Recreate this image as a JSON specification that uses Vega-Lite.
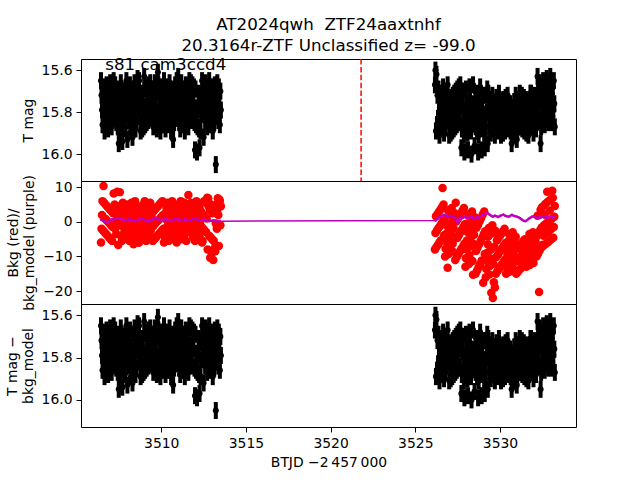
{
"$schema":"https://vega.github.io/schema/vega-lite/v6.json",
"autosize":{"type":"none"},
"padding":{"left":81,"top":59,"right":64,"bottom":421},
"datasets":{
"lc":[
{"t":3506.44,"m":15.65,"b":-6},{"t":3506.47,"m":15.72,"b":-2},{"t":3506.5,"m":15.79,"b":2},{"t":3506.53,"m":15.86,"b":6},{"t":3506.56,"m":15.68,"b":-2.5},{"t":3506.59,"m":15.75,"b":10.4},{"t":3506.62,"m":15.82,"b":5.5},{"t":3506.65,"m":15.89,"b":-3},{"t":3506.68,"m":15.71,"b":1},{"t":3506.71,"m":15.78,"b":5},{"t":3506.74,"m":15.85,"b":-3.5},{"t":3506.77,"m":15.67,"b":0.5},{"t":3506.8,"m":15.74,"b":4.5},{"t":3506.83,"m":15.81,"b":-4},{"t":3506.86,"m":15.88,"b":0},{"t":3506.89,"m":15.7,"b":4},{"t":3506.92,"m":15.77,"b":-4.5},{"t":3506.95,"m":15.84,"b":-0.5},{"t":3506.98,"m":15.66,"b":3.5},{"t":3507.01,"m":15.73,"b":-5},{"t":3507.04,"m":15.8,"b":-1},{"t":3507.07,"m":15.87,"b":3},{"t":3507.1,"m":15.69,"b":-5.5},{"t":3507.13,"m":15.76,"b":-1.5},{"t":3507.16,"m":15.83,"b":2.5},
{"t":3507.19,"m":15.65,"b":8.2},{"t":3507.22,"m":15.74,"b":-0.5},{"t":3507.25,"m":15.83,"b":5},{"t":3507.28,"m":15.67,"b":-2},{"t":3507.31,"m":15.76,"b":3.5},{"t":3507.34,"m":15.85,"b":-3.5},{"t":3507.37,"m":15.69,"b":2},{"t":3507.4,"m":15.78,"b":8.7},{"t":3507.43,"m":15.87,"b":0.5},{"t":3507.46,"m":15.71,"b":-6.7},{"t":3507.49,"m":15.95,"b":-1},{"t":3507.52,"m":15.89,"b":4.5},{"t":3507.55,"m":15.73,"b":8.6},{"t":3507.58,"m":15.82,"b":3},{"t":3507.61,"m":15.66,"b":-4},{"t":3507.64,"m":15.75,"b":1.5},{"t":3507.67,"m":15.84,"b":-5.5},{"t":3507.7,"m":15.94,"b":0},{"t":3507.73,"m":15.77,"b":5.5},{"t":3507.76,"m":15.86,"b":-1.5},{"t":3507.79,"m":15.7,"b":4},{"t":3507.82,"m":15.79,"b":-3},{"t":3507.85,"m":15.88,"b":2.5},{"t":3507.88,"m":15.72,"b":-4.5},{"t":3507.91,"m":15.81,"b":1},
{"t":3507.94,"m":15.65,"b":3},{"t":3507.97,"m":15.76,"b":-0.5},{"t":3508.0,"m":15.93,"b":-4},{"t":3508.03,"m":15.73,"b":5},{"t":3508.06,"m":15.84,"b":1.5},{"t":3508.09,"m":15.7,"b":-2},{"t":3508.12,"m":15.81,"b":-5.5},{"t":3508.15,"m":15.67,"b":3.5},{"t":3508.18,"m":15.78,"b":0},{"t":3508.21,"m":15.89,"b":-3.5},{"t":3508.24,"m":15.75,"b":5.5},{"t":3508.27,"m":15.86,"b":2},{"t":3508.3,"m":15.92,"b":-1.5},{"t":3508.33,"m":15.83,"b":-5},{"t":3508.36,"m":15.69,"b":-6.5},{"t":3508.39,"m":15.8,"b":0.5},{"t":3508.42,"m":15.66,"b":-3},{"t":3508.45,"m":15.77,"b":6},{"t":3508.48,"m":15.88,"b":2.5},{"t":3508.51,"m":15.74,"b":-1},{"t":3508.54,"m":15.85,"b":-4.5},{"t":3508.57,"m":15.71,"b":4.5},{"t":3508.6,"m":15.64,"b":1},{"t":3508.63,"m":15.68,"b":-2.5},{"t":3508.66,"m":15.79,"b":-6},
{"t":3508.69,"m":15.65,"b":-6},{"t":3508.72,"m":15.73,"b":-1.5},{"t":3508.75,"m":15.81,"b":3},{"t":3508.78,"m":15.89,"b":-5},{"t":3508.81,"m":15.72,"b":-0.5},{"t":3508.84,"m":15.8,"b":4},{"t":3508.87,"m":15.88,"b":-4},{"t":3508.9,"m":15.71,"b":0.5},{"t":3508.93,"m":15.79,"b":5},{"t":3508.96,"m":15.87,"b":-3},{"t":3508.99,"m":15.63,"b":1.5},{"t":3509.02,"m":15.78,"b":6},{"t":3509.05,"m":15.86,"b":-2},{"t":3509.08,"m":15.69,"b":2.5},{"t":3509.11,"m":15.77,"b":-5.5},{"t":3509.14,"m":15.85,"b":-1},{"t":3509.17,"m":15.68,"b":3.5},{"t":3509.2,"m":15.76,"b":-4.5},{"t":3509.23,"m":15.84,"b":0},{"t":3509.26,"m":15.67,"b":4.5},{"t":3509.29,"m":15.75,"b":-3.5},{"t":3509.32,"m":15.83,"b":1},{"t":3509.35,"m":15.66,"b":5.5},{"t":3509.38,"m":15.74,"b":-2.5},{"t":3509.41,"m":15.82,"b":2},
{"t":3509.44,"m":15.83,"b":2.5},{"t":3509.47,"m":15.76,"b":-1.5},{"t":3509.5,"m":15.69,"b":-5.5},{"t":3509.53,"m":15.87,"b":3},{"t":3509.56,"m":15.8,"b":-1},{"t":3509.59,"m":15.73,"b":-5},{"t":3509.62,"m":15.66,"b":3.5},{"t":3509.65,"m":15.84,"b":-0.5},{"t":3509.68,"m":15.77,"b":-4.5},{"t":3509.71,"m":15.7,"b":4},{"t":3509.74,"m":15.88,"b":0},{"t":3509.77,"m":15.81,"b":-4},{"t":3509.8,"m":15.61,"b":4.5},{"t":3509.83,"m":15.67,"b":0.5},{"t":3509.86,"m":15.85,"b":-3.5},{"t":3509.89,"m":15.78,"b":5},{"t":3509.92,"m":15.71,"b":1},{"t":3509.95,"m":15.89,"b":-3},{"t":3509.98,"m":15.82,"b":5.5},{"t":3510.01,"m":15.75,"b":1.5},{"t":3510.04,"m":15.68,"b":-2.5},{"t":3510.07,"m":15.86,"b":6},{"t":3510.1,"m":15.79,"b":2},{"t":3510.13,"m":15.72,"b":-2},{"t":3510.16,"m":15.65,"b":-6},
{"t":3510.19,"m":15.81,"b":1},{"t":3510.22,"m":15.72,"b":-4.5},{"t":3510.25,"m":15.88,"b":2.5},{"t":3510.28,"m":15.79,"b":-3},{"t":3510.31,"m":15.7,"b":4},{"t":3510.34,"m":15.86,"b":-1.5},{"t":3510.37,"m":15.77,"b":5.5},{"t":3510.4,"m":15.68,"b":0},{"t":3510.43,"m":15.84,"b":-5.5},{"t":3510.46,"m":15.75,"b":1.5},{"t":3510.49,"m":15.66,"b":-4},{"t":3510.52,"m":15.82,"b":3},{"t":3510.55,"m":15.73,"b":-2.5},{"t":3510.58,"m":15.89,"b":4.5},{"t":3510.61,"m":15.8,"b":-1},{"t":3510.64,"m":15.71,"b":6},{"t":3510.67,"m":15.87,"b":0.5},{"t":3510.7,"m":15.93,"b":-5},{"t":3510.73,"m":15.69,"b":2},{"t":3510.76,"m":15.85,"b":-3.5},{"t":3510.79,"m":15.76,"b":3.5},{"t":3510.82,"m":15.67,"b":-2},{"t":3510.85,"m":15.83,"b":5},{"t":3510.88,"m":15.74,"b":-0.5},{"t":3510.91,"m":15.65,"b":-6},
{"t":3510.94,"m":15.79,"b":-5.5},{"t":3510.97,"m":15.68,"b":-2.5},{"t":3511.0,"m":15.63,"b":1},{"t":3511.03,"m":15.71,"b":4.5},{"t":3511.06,"m":15.85,"b":-4.5},{"t":3511.09,"m":15.74,"b":-1},{"t":3511.12,"m":15.88,"b":2.5},{"t":3511.15,"m":15.77,"b":6},{"t":3511.18,"m":15.66,"b":-3},{"t":3511.21,"m":15.8,"b":0.5},{"t":3511.24,"m":15.69,"b":4},{"t":3511.27,"m":15.83,"b":-5},{"t":3511.3,"m":15.72,"b":-1.5},{"t":3511.33,"m":15.86,"b":2},{"t":3511.36,"m":15.75,"b":5.5},{"t":3511.39,"m":15.89,"b":-3.5},{"t":3511.42,"m":15.78,"b":0},{"t":3511.45,"m":15.67,"b":3.5},{"t":3511.48,"m":15.81,"b":-5.5},{"t":3511.51,"m":15.7,"b":-2},{"t":3511.54,"m":15.84,"b":1.5},{"t":3511.57,"m":15.73,"b":5},{"t":3511.6,"m":15.87,"b":7.8},{"t":3511.63,"m":15.76,"b":-0.5},{"t":3511.66,"m":15.65,"b":3},
{"t":3511.69,"m":15.82,"b":2},{"t":3511.72,"m":15.74,"b":-2.5},{"t":3511.75,"m":15.66,"b":5.5},{"t":3511.78,"m":15.83,"b":1},{"t":3511.81,"m":15.75,"b":-3.5},{"t":3511.84,"m":15.67,"b":4.5},{"t":3511.87,"m":15.84,"b":0},{"t":3511.9,"m":15.76,"b":-4.5},{"t":3511.93,"m":15.68,"b":3.5},{"t":3511.96,"m":15.85,"b":-1},{"t":3511.99,"m":15.98,"b":-5.5},{"t":3512.02,"m":15.69,"b":2.5},{"t":3512.05,"m":15.86,"b":-2},{"t":3512.08,"m":15.78,"b":6},{"t":3512.11,"m":15.99,"b":1.5},{"t":3512.14,"m":15.87,"b":-3},{"t":3512.17,"m":15.79,"b":5},{"t":3512.2,"m":15.71,"b":0.5},{"t":3512.23,"m":15.88,"b":-4},{"t":3512.26,"m":15.97,"b":4},{"t":3512.29,"m":15.72,"b":-0.5},{"t":3512.32,"m":15.89,"b":-5},{"t":3512.35,"m":15.81,"b":3},{"t":3512.38,"m":15.73,"b":-1.5},{"t":3512.41,"m":15.65,"b":-6},
{"t":3512.44,"m":15.74,"b":-5.5},{"t":3512.47,"m":15.81,"b":-2},{"t":3512.5,"m":15.92,"b":2},{"t":3512.53,"m":15.7,"b":6},{"t":3512.56,"m":15.77,"b":-2.5},{"t":3512.59,"m":15.84,"b":1.5},{"t":3512.62,"m":15.66,"b":5.5},{"t":3512.65,"m":15.73,"b":-3},{"t":3512.68,"m":15.8,"b":1},{"t":3512.71,"m":15.87,"b":7},{"t":3512.74,"m":15.69,"b":-8},{"t":3512.77,"m":15.76,"b":6.8},{"t":3512.8,"m":15.83,"b":4.5},{"t":3512.83,"m":15.65,"b":-4},{"t":3512.86,"m":15.72,"b":3.5},{"t":3512.89,"m":15.79,"b":-10.4},{"t":3512.92,"m":15.86,"b":-4.5},{"t":3512.95,"m":15.68,"b":5},{"t":3512.98,"m":15.75,"b":-9},{"t":3513.01,"m":15.82,"b":-5},{"t":3513.04,"m":15.89,"b":2.5},{"t":3513.07,"m":15.71,"b":-11},{"t":3513.1,"m":15.78,"b":-5.5},{"t":3513.13,"m":15.85,"b":4},{"t":3513.16,"m":15.67,"b":-7.5},
{"t":3513.19,"m":15.8,"b":-8.5},{"t":3513.22,"m":16.05,"b":-0.5},{"t":3513.25,"m":15.73,"b":5},{"t":3513.28,"m":15.82,"b":-2},{"t":3513.31,"m":15.66,"b":3.5},{"t":3513.34,"m":15.75,"b":6.8},{"t":3513.37,"m":15.84,"b":2},{"t":3513.4,"m":15.68,"b":-7},{"t":3513.43,"m":15.77,"b":6.5},{"t":3513.46,"m":15.86,"b":6},{"t":3513.49,"m":15.7,"b":-1},{"t":3513.52,"m":15.79,"b":4.5},
{"t":3526.16,"m":15.67,"b":-8},{"t":3526.19,"m":15.6,"b":-3.2},{"t":3526.22,"m":15.89,"b":1.6},{"t":3526.25,"m":15.62,"b":-7.3},{"t":3526.28,"m":15.86,"b":-2.5},{"t":3526.31,"m":15.72,"b":2.3},{"t":3526.34,"m":15.83,"b":-6.6},{"t":3526.37,"m":15.69,"b":-1.8},{"t":3526.4,"m":15.8,"b":2.9},{"t":3526.43,"m":15.91,"b":-5.9},{"t":3526.46,"m":15.77,"b":-1.2},{"t":3526.49,"m":15.88,"b":3.6},{"t":3526.52,"m":15.74,"b":-5.3},{"t":3526.55,"m":15.85,"b":-0.5},{"t":3526.58,"m":15.71,"b":4.3},{"t":3526.61,"m":15.82,"b":9.8},{"t":3526.64,"m":15.68,"b":0.2},{"t":3526.67,"m":15.79,"b":5},{"t":3526.7,"m":15.9,"b":-3.9},{"t":3526.73,"m":15.76,"b":0.9},{"t":3526.76,"m":15.87,"b":-10},{"t":3526.79,"m":15.73,"b":-7.8},{"t":3526.82,"m":15.84,"b":-5.6},{"t":3526.85,"m":15.7,"b":-3.4},{"t":3526.88,"m":15.81,"b":-1.2},
{"t":3526.91,"m":15.67,"b":-13.3},{"t":3526.94,"m":15.75,"b":3.3},{"t":3526.97,"m":15.83,"b":-9.3},{"t":3527.0,"m":15.91,"b":-7.1},{"t":3527.03,"m":15.74,"b":-4.8},{"t":3527.06,"m":15.82,"b":-2.6},{"t":3527.09,"m":15.9,"b":-0.4},{"t":3527.12,"m":15.73,"b":1.8},{"t":3527.15,"m":15.81,"b":4},{"t":3527.18,"m":15.89,"b":-8.5},{"t":3527.21,"m":15.72,"b":-6.3},{"t":3527.24,"m":15.8,"b":-4.1},{"t":3527.27,"m":15.88,"b":-1.9},{"t":3527.3,"m":15.71,"b":0.3},{"t":3527.33,"m":15.79,"b":2.5},{"t":3527.36,"m":15.87,"b":-11},{"t":3527.39,"m":15.7,"b":5.5},{"t":3527.42,"m":15.78,"b":0.1},{"t":3527.45,"m":15.86,"b":-10.2},{"t":3527.48,"m":15.69,"b":-4.7},{"t":3527.51,"m":15.77,"b":0.8},{"t":3527.54,"m":15.85,"b":-9.4},{"t":3527.57,"m":15.68,"b":-3.9},{"t":3527.6,"m":15.76,"b":1.6},{"t":3527.63,"m":15.84,"b":-8.6},
{"t":3527.66,"m":15.67,"b":-3.1},{"t":3527.69,"m":15.74,"b":2.4},{"t":3527.72,"m":15.97,"b":-7.8},{"t":3527.75,"m":15.88,"b":-2.3},{"t":3527.78,"m":15.7,"b":3.2},{"t":3527.81,"m":15.77,"b":-7.1},{"t":3527.84,"m":15.84,"b":-1.5},{"t":3527.87,"m":15.91,"b":4},{"t":3527.9,"m":15.99,"b":-6.3},{"t":3527.93,"m":15.8,"b":-0.7},{"t":3527.96,"m":15.87,"b":-13},{"t":3527.99,"m":15.69,"b":-10.5},{"t":3528.02,"m":15.76,"b":-7.9},{"t":3528.05,"m":15.83,"b":-5.4},{"t":3528.08,"m":15.9,"b":-2.9},{"t":3528.11,"m":15.98,"b":-0.4},{"t":3528.14,"m":15.79,"b":2.2},{"t":3528.17,"m":15.86,"b":-12.2},{"t":3528.2,"m":15.68,"b":-9.6},{"t":3528.23,"m":15.75,"b":-7.1},{"t":3528.26,"m":15.82,"b":-4.6},{"t":3528.29,"m":15.89,"b":-2.1},{"t":3528.32,"m":16.0,"b":0.5},{"t":3528.35,"m":15.78,"b":3},{"t":3528.38,"m":15.85,"b":-11.3},
{"t":3528.41,"m":15.67,"b":-15.3},{"t":3528.44,"m":15.76,"b":-6.3},{"t":3528.47,"m":15.85,"b":-3.7},{"t":3528.5,"m":15.96,"b":-1.2},{"t":3528.53,"m":15.78,"b":1.3},{"t":3528.56,"m":15.87,"b":-15},{"t":3528.59,"m":15.71,"b":-8.4},{"t":3528.62,"m":15.8,"b":-1.7},{"t":3528.65,"m":15.89,"b":-14.1},{"t":3528.68,"m":15.73,"b":-7.4},{"t":3528.71,"m":15.99,"b":-0.8},{"t":3528.74,"m":15.91,"b":-13.1},{"t":3528.77,"m":15.75,"b":-6.5},{"t":3528.8,"m":15.84,"b":0.2},{"t":3528.83,"m":15.68,"b":-12.2},{"t":3528.86,"m":15.77,"b":-5.5},{"t":3528.89,"m":15.86,"b":1.1},{"t":3528.92,"m":15.98,"b":-11.2},{"t":3528.95,"m":15.79,"b":-4.6},{"t":3528.98,"m":15.88,"b":2.1},{"t":3529.01,"m":15.72,"b":-17.6},{"t":3529.04,"m":15.81,"b":-3.6},{"t":3529.07,"m":15.9,"b":3},{"t":3529.1,"m":15.97,"b":-9.3},{"t":3529.13,"m":15.83,"b":-2.7},
{"t":3529.16,"m":15.87,"b":-16},{"t":3529.19,"m":15.72,"b":-13.6},{"t":3529.22,"m":15.8,"b":-11.3},{"t":3529.25,"m":15.69,"b":-8.9},{"t":3529.28,"m":15.95,"b":-6.5},{"t":3529.31,"m":15.71,"b":-4.2},{"t":3529.34,"m":15.79,"b":-1.8},{"t":3529.37,"m":15.87,"b":-15.2},{"t":3529.4,"m":15.74,"b":-12.8},{"t":3529.43,"m":15.82,"b":-10.5},{"t":3529.46,"m":15.9,"b":-8.1},{"t":3529.49,"m":15.77,"b":-20.5},{"t":3529.52,"m":15.85,"b":-3.4},{"t":3529.55,"m":15.72,"b":-1},{"t":3529.58,"m":15.8,"b":-22},{"t":3529.61,"m":15.88,"b":-12.1},{"t":3529.64,"m":15.75,"b":-17.5},{"t":3529.67,"m":15.83,"b":-7.3},{"t":3529.7,"m":15.91,"b":-19},{"t":3529.73,"m":15.78,"b":-2.6},{"t":3529.76,"m":15.86,"b":-15},{"t":3529.79,"m":15.73,"b":-10.2},{"t":3529.82,"m":15.81,"b":-5.4},{"t":3529.85,"m":15.89,"b":-14.3},{"t":3529.88,"m":15.76,"b":-9.5},{"t":3529.91,"m":15.84,"b":-4.7},
{"t":3529.94,"m":15.71,"b":-13.6},{"t":3529.97,"m":15.76,"b":-8.8},{"t":3530.0,"m":15.81,"b":-4.1},{"t":3530.03,"m":15.86,"b":-12.9},{"t":3530.06,"m":15.91,"b":-8.2},{"t":3530.09,"m":15.75,"b":-3.4},{"t":3530.12,"m":15.8,"b":-12.3},{"t":3530.15,"m":15.85,"b":-7.5},{"t":3530.18,"m":15.9,"b":-2.7},{"t":3530.21,"m":15.74,"b":-11.6},{"t":3530.24,"m":15.79,"b":-6.8},{"t":3530.27,"m":15.84,"b":-2},{"t":3530.3,"m":15.89,"b":-10.9},{"t":3530.33,"m":15.73,"b":-6.1},{"t":3530.36,"m":15.78,"b":-15},{"t":3530.39,"m":15.83,"b":-13.1},{"t":3530.42,"m":15.88,"b":-11.2},{"t":3530.45,"m":15.72,"b":-9.3},{"t":3530.48,"m":15.77,"b":-7.4},{"t":3530.51,"m":15.82,"b":-5.5},{"t":3530.54,"m":15.87,"b":-3.6},
{"t":3530.57,"m":15.84,"b":-14.4},{"t":3530.6,"m":15.76,"b":-12.5},{"t":3530.63,"m":15.89,"b":-10.6},{"t":3530.66,"m":15.81,"b":-8.7},{"t":3530.69,"m":15.95,"b":-6.8},{"t":3530.72,"m":15.86,"b":-4.9},{"t":3530.75,"m":15.78,"b":-3},{"t":3530.78,"m":15.91,"b":-13.7},{"t":3530.81,"m":15.83,"b":-11.8},{"t":3530.84,"m":15.75,"b":-9.9},{"t":3530.87,"m":15.88,"b":-8},{"t":3530.9,"m":15.8,"b":-6.2},{"t":3530.93,"m":15.72,"b":-4.3},{"t":3530.96,"m":15.85,"b":-15},{"t":3530.99,"m":15.93,"b":-11.3},{"t":3531.02,"m":15.9,"b":-7.6},{"t":3531.05,"m":15.82,"b":-14.5},{"t":3531.08,"m":15.74,"b":-10.8},{"t":3531.11,"m":15.87,"b":-7.1},{"t":3531.14,"m":15.79,"b":-13.9},{"t":3531.17,"m":15.71,"b":-10.3},
{"t":3531.2,"m":15.87,"b":-6.6},{"t":3531.23,"m":15.82,"b":-13.4},{"t":3531.26,"m":15.77,"b":-9.7},{"t":3531.29,"m":15.72,"b":-6.1},{"t":3531.32,"m":15.88,"b":-12.9},{"t":3531.35,"m":15.83,"b":-9.2},{"t":3531.38,"m":15.78,"b":-5.5},{"t":3531.41,"m":15.73,"b":-12.4},{"t":3531.44,"m":15.89,"b":-8.7},{"t":3531.47,"m":15.84,"b":-5},{"t":3531.5,"m":15.79,"b":-11.8},{"t":3531.53,"m":15.74,"b":-8.2},{"t":3531.56,"m":15.9,"b":-13},{"t":3531.59,"m":15.85,"b":-11.4},{"t":3531.62,"m":15.8,"b":-9.8},{"t":3531.65,"m":15.75,"b":-8.3},{"t":3531.68,"m":15.91,"b":-6.7},{"t":3531.71,"m":15.86,"b":-5.1},{"t":3531.74,"m":15.81,"b":-3.5},{"t":3531.77,"m":15.76,"b":-12.5},{"t":3531.8,"m":15.71,"b":-10.9},
{"t":3531.83,"m":15.71,"b":-9.3},{"t":3531.86,"m":15.79,"b":-7.7},{"t":3531.89,"m":15.87,"b":-6.2},{"t":3531.92,"m":15.74,"b":-4.6},{"t":3531.95,"m":15.82,"b":-3},{"t":3531.98,"m":15.9,"b":-11.9},{"t":3532.01,"m":15.77,"b":-10.4},{"t":3532.04,"m":15.85,"b":-8.8},{"t":3532.07,"m":15.72,"b":-7.2},{"t":3532.1,"m":15.8,"b":-5.6},{"t":3532.13,"m":15.88,"b":-4.1},{"t":3532.16,"m":15.75,"b":-10},{"t":3532.19,"m":15.83,"b":-4.1},
{"t":3532.22,"m":15.63,"b":1.8},{"t":3532.25,"m":15.7,"b":-9.2},{"t":3532.28,"m":15.77,"b":-3.3},{"t":3532.31,"m":15.84,"b":-20.3},{"t":3532.34,"m":15.66,"b":-8.3},{"t":3532.37,"m":15.73,"b":-2.4},{"t":3532.4,"m":15.95,"b":3.5},{"t":3532.43,"m":15.87,"b":-7.5},{"t":3532.46,"m":15.69,"b":-1.6},{"t":3532.49,"m":15.76,"b":4.3},{"t":3532.52,"m":15.83,"b":-6.6},{"t":3532.55,"m":15.65,"b":-7},{"t":3532.58,"m":15.72,"b":-4},{"t":3532.61,"m":15.79,"b":-0.9},{"t":3532.64,"m":15.86,"b":2.1},{"t":3532.67,"m":15.68,"b":5.2},{"t":3532.7,"m":15.75,"b":-6.4},{"t":3532.73,"m":15.82,"b":-3.3},{"t":3532.76,"m":15.64,"b":-0.3},{"t":3532.79,"m":15.71,"b":8.7},{"t":3532.82,"m":15.78,"b":5.8},{"t":3532.85,"m":15.85,"b":-5.8},{"t":3532.88,"m":15.67,"b":-2.7},{"t":3532.91,"m":15.74,"b":0.3},{"t":3532.94,"m":15.81,"b":3.3},{"t":3532.97,"m":15.63,"b":6.4},{"t":3533.0,"m":15.74,"b":-5.2},{"t":3533.03,"m":15.85,"b":-2.1},{"t":3533.06,"m":15.71,"b":0.9},{"t":3533.09,"m":15.82,"b":9},{"t":3533.12,"m":15.68,"b":7},{"t":3533.15,"m":15.79,"b":-4.6},{"t":3533.18,"m":15.65,"b":-1.5},{"t":3533.21,"m":15.76,"b":1.5},{"t":3533.24,"m":15.87,"b":4.6}
],
"model":[
{"t":3506.45,"k":0.6},{"t":3506.55,"k":0.4},{"t":3506.65,"k":0.1},{"t":3506.75,"k":-0.2},{"t":3506.85,"k":0.0},{"t":3506.95,"k":0.3},{"t":3507.05,"k":0.6},{"t":3507.15,"k":0.8},{"t":3507.25,"k":0.7},{"t":3507.35,"k":0.9},{"t":3507.45,"k":1.1},{"t":3507.55,"k":1.0},{"t":3507.65,"k":0.8},{"t":3507.75,"k":0.6},{"t":3507.85,"k":0.5},{"t":3507.95,"k":0.4},{"t":3508.05,"k":0.6},{"t":3508.15,"k":0.7},{"t":3508.25,"k":0.5},{"t":3508.35,"k":0.3},{"t":3508.45,"k":0.2},{"t":3508.55,"k":0.4},{"t":3508.65,"k":0.6},{"t":3508.75,"k":0.8},{"t":3508.85,"k":0.9},{"t":3508.95,"k":0.7},{"t":3509.05,"k":0.5},{"t":3509.15,"k":0.3},{"t":3509.25,"k":0.1},{"t":3509.35,"k":0.3},{"t":3509.45,"k":0.6},{"t":3509.55,"k":0.9},{"t":3509.65,"k":1.2},{"t":3509.75,"k":1.0},{"t":3509.85,"k":0.7},{"t":3509.95,"k":0.5},{"t":3510.05,"k":0.4},{"t":3510.15,"k":0.6},{"t":3510.25,"k":0.8},{"t":3510.35,"k":0.7},{"t":3510.45,"k":0.5},{"t":3510.55,"k":0.3},{"t":3510.65,"k":0.4},{"t":3510.75,"k":0.7},{"t":3510.85,"k":0.9},{"t":3510.95,"k":0.8},{"t":3511.05,"k":0.6},{"t":3511.15,"k":0.4},{"t":3511.25,"k":0.5},{"t":3511.35,"k":0.7},{"t":3511.45,"k":0.6},{"t":3511.55,"k":0.4},{"t":3511.65,"k":0.3},{"t":3511.75,"k":0.5},{"t":3511.85,"k":0.8},{"t":3511.95,"k":1.0},{"t":3512.05,"k":0.9},{"t":3512.15,"k":0.6},{"t":3512.25,"k":0.4},{"t":3512.35,"k":0.3},{"t":3512.45,"k":0.5},{"t":3512.55,"k":0.6},{"t":3512.65,"k":0.4},{"t":3512.75,"k":0.3},{"t":3512.85,"k":0.2},{"t":3512.95,"k":0.3},{"t":3513.05,"k":0.4},{"t":3513.15,"k":0.3},{"t":3513.25,"k":0.2},{"t":3513.35,"k":0.2},{"t":3513.45,"k":0.2},
{"t":3526.2,"k":0.4},{"t":3526.3,"k":0.8},{"t":3526.4,"k":1.3},{"t":3526.5,"k":1.6},{"t":3526.6,"k":1.8},{"t":3526.7,"k":2.0},{"t":3526.8,"k":1.9},{"t":3526.9,"k":1.6},{"t":3527.0,"k":1.4},{"t":3527.1,"k":1.7},{"t":3527.2,"k":1.5},{"t":3527.3,"k":1.3},{"t":3527.4,"k":0.6},{"t":3527.5,"k":-0.3},{"t":3527.6,"k":0.8},{"t":3527.7,"k":1.3},{"t":3527.8,"k":1.1},{"t":3527.9,"k":1.4},{"t":3528.0,"k":1.2},{"t":3528.1,"k":1.0},{"t":3528.2,"k":1.3},{"t":3528.3,"k":1.5},{"t":3528.4,"k":1.2},{"t":3528.5,"k":1.0},{"t":3528.6,"k":1.3},{"t":3528.7,"k":1.1},{"t":3528.8,"k":1.4},{"t":3528.9,"k":1.7},{"t":3529.0,"k":2.0},{"t":3529.1,"k":2.3},{"t":3529.2,"k":2.6},{"t":3529.3,"k":2.4},{"t":3529.4,"k":2.0},{"t":3529.5,"k":1.7},{"t":3529.6,"k":1.5},{"t":3529.7,"k":1.8},{"t":3529.8,"k":1.6},{"t":3529.9,"k":1.4},{"t":3530.0,"k":1.7},{"t":3530.1,"k":1.9},{"t":3530.2,"k":2.1},{"t":3530.3,"k":1.8},{"t":3530.4,"k":1.6},{"t":3530.5,"k":1.5},{"t":3530.6,"k":1.7},{"t":3530.7,"k":2.0},{"t":3530.8,"k":1.8},{"t":3530.9,"k":1.6},{"t":3531.0,"k":1.5},{"t":3531.1,"k":1.3},{"t":3531.2,"k":1.0},{"t":3531.3,"k":0.6},{"t":3531.4,"k":0.3},{"t":3531.5,"k":0.2},{"t":3531.6,"k":0.5},{"t":3531.7,"k":0.9},{"t":3531.8,"k":1.2},{"t":3531.9,"k":1.5},{"t":3532.0,"k":1.6},{"t":3532.1,"k":1.3},{"t":3532.2,"k":1.1},{"t":3532.3,"k":1.4},{"t":3532.4,"k":1.2},{"t":3532.5,"k":1.5},{"t":3532.6,"k":1.3},{"t":3532.7,"k":1.2},{"t":3532.8,"k":1.4},{"t":3532.9,"k":1.3},{"t":3533.0,"k":1.5},{"t":3533.1,"k":1.2},{"t":3533.2,"k":1.4}
]
},
"config":{
"font":"DejaVu Sans",
"view":{"stroke":"#000000","strokeWidth":1},
"concat":{"spacing":0},
"axis":{"grid":false,"domain":false,"tickColor":"#000000","tickSize":5,"tickWidth":1,"labelFont":"DejaVu Sans","labelFontSize":13.9,"labelColor":"#000000","labelPadding":4,"titleFont":"DejaVu Sans","titleFontSize":13.9,"titleFontWeight":"normal","titleColor":"#000000"}
},
"spacing":0,
"bounds":"flush",
"vconcat":[
{
"width":495,"height":122,
"title":{"text":["AT2024qwh\u00a0 ZTF24aaxtnhf","20.3164r-ZTF Unclassified z= -99.0"],"font":"DejaVu Sans","fontSize":16.7,"fontWeight":"normal","color":"#000000","anchor":"middle","frame":"group","baseline":"bottom","lineHeight":21,"offset":-15},
"encoding":{"x":{"field":"t","type":"quantitative","scale":{"domain":[3505.26,3534.49],"nice":false,"zero":false},"axis":null}},
"layer":[
{"data":{"name":"lc"},"mark":{"type":"tick","orient":"vertical","size":17,"thickness":4,"color":"#000000","opacity":1},"encoding":{"y":{"field":"m","type":"quantitative","scale":{"domain":[15.547,16.128],"reverse":true,"nice":false,"zero":false},"axis":{"values":[15.6,15.8,16.0],"format":".1f","title":"T mag","titlePadding":6}}}},
{"data":{"name":"lc"},"mark":{"type":"point","filled":true,"size":36,"color":"#000000","opacity":1},"encoding":{"y":{"field":"m","type":"quantitative"}}},
{"data":{"values":[{"t":3521.8}]},"mark":{"type":"rule","color":"#ff0000","strokeWidth":1.5,"strokeDash":[5.5,2.4]},"encoding":{}},
{"data":{"values":[{"t":3506.69,"m":15.6,"label":"s81 cam3ccd4"}]},"mark":{"type":"text","align":"left","baseline":"alphabetic","fontSize":16.7,"color":"#000000"},"encoding":{"y":{"field":"m","type":"quantitative"},"text":{"field":"label"}}}
]
},
{
"width":495,"height":123,
"encoding":{"x":{"field":"t","type":"quantitative","scale":{"domain":[3505.26,3534.49],"nice":false,"zero":false},"axis":null}},
"layer":[
{"data":{"name":"lc"},"mark":{"type":"point","filled":true,"size":72,"color":"#ff0000","opacity":1},"encoding":{"y":{"field":"b","type":"quantitative","scale":{"domain":[-23.76,11.82],"nice":false,"zero":false},"axis":{"values":[-20,-10,0,10],"title":["Bkg (red)/","bkg_model (purple)"],"titleLineHeight":16,"titlePadding":6}}}},
{"data":{"name":"model"},"mark":{"type":"line","color":"#bf00bf","strokeWidth":1.5,"point":{"filled":true,"size":8,"color":"#bf00bf"}},"encoding":{"y":{"field":"k","type":"quantitative"}}}
]
},
{
"width":495,"height":123,
"encoding":{"x":{"field":"t","type":"quantitative","scale":{"domain":[3505.26,3534.49],"nice":false,"zero":false},"axis":{"values":[3510,3515,3520,3525,3530],"format":"d","title":"BTJD \u22122\u2009457\u2009000","titlePadding":6}}},
"layer":[
{"data":{"name":"lc"},"mark":{"type":"tick","orient":"vertical","size":17,"thickness":4,"color":"#000000","opacity":1},"encoding":{"y":{"field":"m","type":"quantitative","scale":{"domain":[15.547,16.128],"reverse":true,"nice":false,"zero":false},"axis":{"values":[15.6,15.8,16.0],"format":".1f","title":["T mag \u2212","bkg_model"],"titleLineHeight":16,"titlePadding":6}}}},
{"data":{"name":"lc"},"mark":{"type":"point","filled":true,"size":36,"color":"#000000","opacity":1},"encoding":{"y":{"field":"m","type":"quantitative"}}}
]
}
]
}
